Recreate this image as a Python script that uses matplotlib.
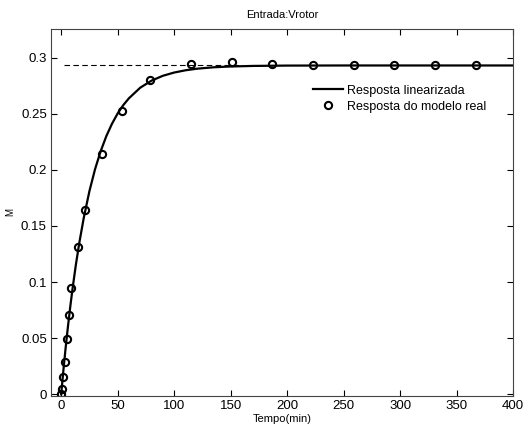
import matplotlib
matplotlib.use("Agg")
import matplotlib.pyplot as plt

plt.rcParams['font.family'] = ['Liberation Sans', 'DejaVu Sans']

# Linearized response
t_lin = [0, 2, 4, 6, 8, 10, 13, 16, 20, 25, 30, 35, 40, 45, 50, 55, 60,
         70, 80, 90, 100, 110, 120, 135, 150, 170, 200, 250, 300, 350, 400]
y_lin = [0.0, 0.0217, 0.0418, 0.0604, 0.0776, 0.0936, 0.1153, 0.1347, 0.1572,
         0.1810, 0.2006, 0.2167, 0.2301, 0.2411, 0.2502, 0.2577, 0.2638,
         0.2732, 0.2795, 0.2838, 0.2867, 0.2887, 0.2901, 0.2914, 0.2921,
         0.2926, 0.2929, 0.2930, 0.2930, 0.2930, 0.2930]

# Real model response (circles)
t_real = [0, 1, 2, 3, 5, 7, 9, 15, 21, 36, 54, 79, 115, 151, 187, 223, 259, 295, 331, 367]
y_real = [0.0, 0.005, 0.0157, 0.0288, 0.0489, 0.0703, 0.0946, 0.1313, 0.1645,
          0.2140, 0.2520, 0.2802, 0.2947, 0.2959, 0.2941, 0.2932, 0.2932,
          0.2932, 0.2932, 0.2932]

# Steady-state reference (dashed)
t_ref = [2.5, 160]
y_ref = [0.293, 0.293]

fig = plt.figure(figsize=(5.26, 4.30), dpi=100)
ax = fig.add_axes([51/526, 1 - 396/430, (513 - 51)/526, (396 - 29)/430])

ax.plot(t_ref, y_ref, linestyle=(0, (5, 3)), color='black', linewidth=0.8)
ax.plot(t_lin, y_lin, color='black', linewidth=1.6, label='Resposta linearizada')
ax.plot(t_real, y_real, linestyle='none', marker='o', markersize=5.2,
        markerfacecolor='none', markeredgecolor='black', markeredgewidth=1.5,
        label='Resposta do modelo real')

ax.set_xlim(-9, 400)
ax.set_ylim(-0.0015, 0.3255)
ax.set_xticks([0, 50, 100, 150, 200, 250, 300, 350, 400])
ax.set_xticklabels(['0', '50', '100', '150', '200', '250', '300', '350', '400'])
ax.set_yticks([0, 0.05, 0.1, 0.15, 0.2, 0.25, 0.3])
ax.set_yticklabels(['0', '0.05', '0.1', '0.15', '0.2', '0.25', '0.3'])
ax.tick_params(direction='in', top=True, right=True, length=4, width=0.8,
               labelsize=9.5, pad=3, colors='black')
for s in ax.spines.values():
    s.set_linewidth(0.8)
    s.set_color('#444444')

ax.set_title('Entrada:Vrotor', fontsize=8, pad=8)
ax.set_xlabel('Tempo(min)', fontsize=8, labelpad=1)
ax.set_ylabel('M', fontsize=7, labelpad=4)

ax.legend(loc='upper left', bbox_to_anchor=(0.568, 0.848), frameon=False,
          fontsize=9, borderpad=0, borderaxespad=0, handlelength=2.4,
          handletextpad=0.3, labelspacing=0.3)

fig.savefig('out.png', dpi=100)
